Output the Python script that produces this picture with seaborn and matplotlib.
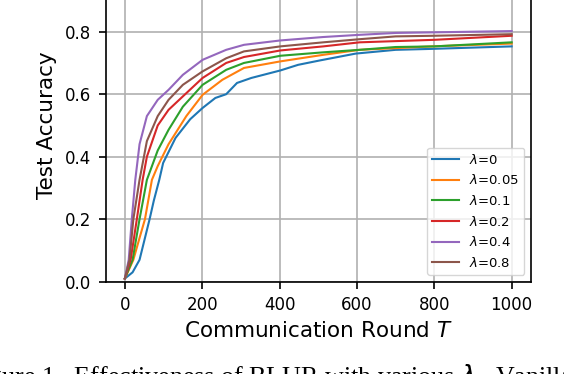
import numpy as np
import pandas as pd
import matplotlib
matplotlib.use("Agg")
import matplotlib.pyplot as plt
import seaborn as sns

# values (round T, test accuracy)
rounds_blue = [0, 20, 38, 52, 64, 75, 89, 99, 131, 169, 201, 234, 262, 290, 327, 402, 448, 504, 597, 700, 793, 1000]
acc_blue = [0.01, 0.03, 0.07, 0.14, 0.2, 0.26, 0.326, 0.38, 0.46, 0.52, 0.556, 0.588, 0.60, 0.636, 0.652, 0.676, 0.694, 0.708, 0.73, 0.742, 0.745, 0.753]

rounds_orange = [0, 22, 38, 52, 70, 85, 113, 159, 201, 252, 308, 402, 513, 607, 793, 1000]
acc_orange = [0.01, 0.07, 0.14, 0.2, 0.326, 0.37, 0.44, 0.53, 0.598, 0.646, 0.684, 0.705, 0.726, 0.742, 0.753, 0.762]

rounds_green = [0, 20, 38, 57, 85, 113, 150, 201, 262, 308, 402, 513, 607, 700, 800, 1000]
acc_green = [0.01, 0.07, 0.2, 0.326, 0.42, 0.486, 0.56, 0.63, 0.678, 0.70, 0.723, 0.734, 0.742, 0.751, 0.753, 0.766]

rounds_red = [0, 15, 31, 46, 57, 85, 113, 150, 201, 262, 308, 402, 513, 607, 800, 1000]
acc_red = [0.01, 0.07, 0.2, 0.326, 0.40, 0.50, 0.55, 0.593, 0.652, 0.70, 0.719, 0.74, 0.753, 0.766, 0.774, 0.787]

rounds_purple = [0, 10, 18, 27, 38, 57, 85, 113, 150, 201, 262, 308, 402, 513, 607, 700, 800, 1000]
acc_purple = [0.01, 0.07, 0.2, 0.326, 0.44, 0.53, 0.582, 0.614, 0.662, 0.71, 0.742, 0.758, 0.772, 0.783, 0.79, 0.796, 0.798, 0.802]

rounds_brown = [0, 12, 22, 38, 57, 85, 113, 150, 201, 262, 308, 402, 513, 607, 700, 800, 1000]
acc_brown = [0.01, 0.07, 0.2, 0.326, 0.45, 0.53, 0.582, 0.63, 0.673, 0.715, 0.737, 0.753, 0.766, 0.776, 0.785, 0.787, 0.792]

lambda_labels = [r"$\lambda$=0", r"$\lambda$=0.05", r"$\lambda$=0.1",
                 r"$\lambda$=0.2", r"$\lambda$=0.4", r"$\lambda$=0.8"]

series = [(rounds_blue, acc_blue), (rounds_orange, acc_orange), (rounds_green, acc_green),
          (rounds_red, acc_red), (rounds_purple, acc_purple), (rounds_brown, acc_brown)]

frames = []
for lab, (r, a) in zip(lambda_labels, series):
    frames.append(pd.DataFrame({"T": r, "acc": a, "lam": lab}))
df = pd.concat(frames, ignore_index=True)

fig = plt.figure(figsize=(5.64, 3.74), dpi=100)
# axes top runs past the figure edge (reference is cropped there)
ax = fig.add_axes([105.5 / 564, 92.3 / 374, 425.5 / 564, 312.5 / 374])

sns.lineplot(data=df, x="T", y="acc", hue="lam", hue_order=lambda_labels,
             palette="tab10", linewidth=1.5, ax=ax)

ax.set_xlim(-50, 1050)
ax.set_ylim(0, 1.0)
ax.set_xticks([0, 200, 400, 600, 800, 1000])
ax.set_yticks([0.0, 0.2, 0.4, 0.6, 0.8])
ax.grid(True, color="#b0b0b0", linewidth=1.2)
ax.set_axisbelow(True)
for s in ax.spines.values():
    s.set_linewidth(1.2)
ax.tick_params(labelsize=12, length=5, width=1.2, pad=5)
ax.set_xlabel("Communication Round $T$", fontsize=15.5, labelpad=5)
ax.set_ylabel("Test Accuracy", fontsize=15.5, labelpad=6)
ax.legend(loc="lower right", fontsize=9.5, framealpha=0.8)

fig.text(-0.059, 0.032, r"Figure 1.  Effectiveness of BLUR with various $\lambda$.  Vanilla FedAvg",
         family="Liberation Serif", fontsize=18.7, va="top", ha="left")

fig.savefig("out.png", dpi=100)
